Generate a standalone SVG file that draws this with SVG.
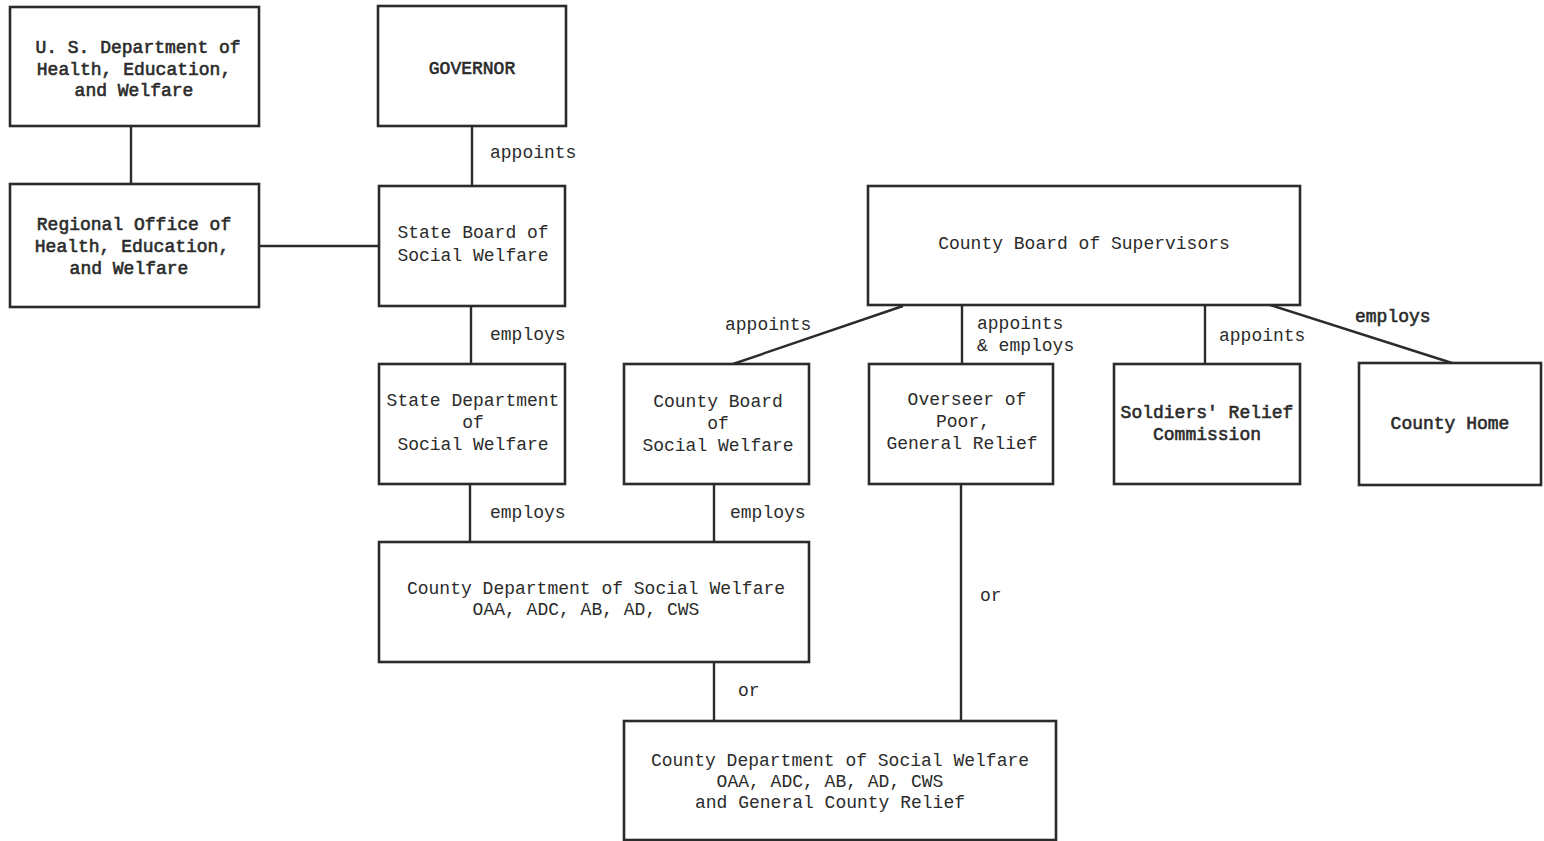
<svg xmlns="http://www.w3.org/2000/svg" width="1544" height="841" viewBox="0 0 1544 841">
<style>
.box{fill:#fff;stroke:#2b2b2b;stroke-width:2.6}
.ln{stroke:#2b2b2b;stroke-width:2.4;fill:none}
text{font-family:"Liberation Mono","DejaVu Sans Mono",monospace;font-size:18px;fill:#2b2b2b;text-anchor:middle}
.b{stroke:#2b2b2b;stroke-width:0.6}
.lbl{text-anchor:start}
</style>
<rect width="1544" height="841" fill="#fff"/>
<g id="connectors">
<line class="ln" x1="131" y1="126" x2="131" y2="184"/>
<line class="ln" x1="472" y1="126" x2="472" y2="186"/>
<line class="ln" x1="259" y1="246" x2="379" y2="246"/>
<line class="ln" x1="471" y1="306" x2="471" y2="364"/>
<line class="ln" x1="903" y1="306" x2="733" y2="364"/>
<line class="ln" x1="962" y1="305" x2="962" y2="364"/>
<line class="ln" x1="1205" y1="305" x2="1205" y2="364"/>
<line class="ln" x1="1270" y1="305" x2="1452" y2="363"/>
<line class="ln" x1="470" y1="484" x2="470" y2="542"/>
<line class="ln" x1="714" y1="484" x2="714" y2="542"/>
<line class="ln" x1="714" y1="662" x2="714" y2="721"/>
<line class="ln" x1="961" y1="484" x2="961" y2="721"/>
<text class="lbl" x="490" y="158">appoints</text>
<text class="lbl" x="490" y="340">employs</text>
<text class="lbl" x="725" y="330">appoints</text>
<text class="lbl" x="977" y="329">appoints</text>
<text class="lbl" x="977" y="351">&amp; employs</text>
<text class="lbl" x="1219" y="341">appoints</text>
<text class="lbl b" x="1355" y="322">employs</text>
<text class="lbl" x="490" y="518">employs</text>
<text class="lbl" x="730" y="518">employs</text>
<text class="lbl" x="738" y="696">or</text>
<text class="lbl" x="980" y="601">or</text>
</g>
<g id="us-dept">
<rect class="box" x="10" y="7" width="249" height="119"/>
<text class="b" x="138" y="53">U. S. Department of</text>
<text class="b" x="134" y="75">Health, Education,</text>
<text class="b" x="134" y="96">and Welfare</text>
</g>
<g id="governor">
<rect class="box" x="378" y="6" width="188" height="120"/>
<text class="b" x="472" y="74">GOVERNOR</text>
</g>
<g id="regional-office">
<rect class="box" x="10" y="184" width="249" height="123"/>
<text class="b" x="134" y="230">Regional Office of</text>
<text class="b" x="132" y="252">Health, Education,</text>
<text class="b" x="129" y="274">and Welfare</text>
</g>
<g id="state-board">
<rect class="box" x="379" y="186" width="186" height="120"/>
<text x="473" y="238">State Board of</text>
<text x="473" y="261">Social Welfare</text>
</g>
<g id="county-board-supervisors">
<rect class="box" x="868" y="186" width="432" height="119"/>
<text x="1084" y="249">County Board of Supervisors</text>
</g>
<g id="state-dept">
<rect class="box" x="379" y="364" width="186" height="120"/>
<text x="473" y="406">State Department</text>
<text x="473" y="428">of</text>
<text x="473" y="450">Social Welfare</text>
</g>
<g id="county-board-sw">
<rect class="box" x="624" y="364" width="185" height="120"/>
<text x="718" y="407">County Board</text>
<text x="718" y="429">of</text>
<text x="718" y="451">Social Welfare</text>
</g>
<g id="overseer">
<rect class="box" x="869" y="364" width="184" height="120"/>
<text x="967" y="405">Overseer of</text>
<text x="963" y="427">Poor,</text>
<text x="962" y="449">General Relief</text>
</g>
<g id="soldiers">
<rect class="box" x="1114" y="364" width="186" height="120"/>
<text class="b" x="1207" y="418">Soldiers' Relief</text>
<text class="b" x="1207" y="440">Commission</text>
</g>
<g id="county-home">
<rect class="box" x="1359" y="363" width="182" height="122"/>
<text class="b" x="1450" y="429">County Home</text>
</g>
<g id="county-dept-sw">
<rect class="box" x="379" y="542" width="430" height="120"/>
<text x="596" y="594">County Department of Social Welfare</text>
<text x="586" y="615">OAA, ADC, AB, AD, CWS</text>
</g>
<g id="county-dept-sw-gr">
<rect class="box" x="624" y="721" width="432" height="119"/>
<text x="840" y="766">County Department of Social Welfare</text>
<text x="830" y="787">OAA, ADC, AB, AD, CWS</text>
<text x="830" y="808">and General County Relief</text>
</g>
</svg>
